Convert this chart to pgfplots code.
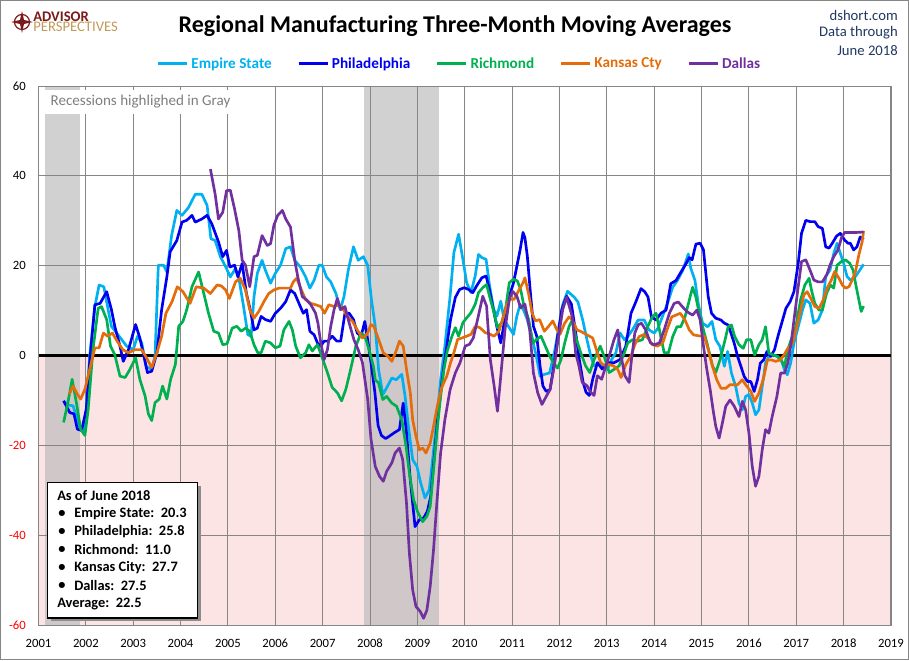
\documentclass[border=0pt]{standalone}
\usepackage{pgfplots}
\pgfplotsset{compat=1.18}
\usepackage{fontspec}
\setmainfont{Carlito}
\definecolor{cES}{HTML}{00B0F0}
\definecolor{cPH}{HTML}{0000F0}
\definecolor{cRI}{HTML}{00B050}
\definecolor{cKC}{HTML}{E46C0A}
\definecolor{cDA}{HTML}{7030A0}
\definecolor{gridc}{HTML}{868686}
\definecolor{pinkc}{HTML}{FDE4E4}
\definecolor{recc}{HTML}{BDBDBD}
\definecolor{navy}{HTML}{1F3864}
\definecolor{advred}{HTML}{7B1A1A}
\definecolor{advgold}{HTML}{C09A5B}
\definecolor{labgray}{HTML}{7F7F7F}
\begin{document}
\begin{tikzpicture}
\begin{scope}[x=0.75pt,y=0.75pt]
\useasboundingbox (0,0) rectangle (909,660);
\draw[gridc, line width=0.75pt] (0.5,0.5) rectangle (908.5,659.5);
\end{scope}
\begin{axis}[
  set layers=standard,
  scale only axis, width=639.4pt, height=404.25pt,
  at={(28.875pt,26.25pt)}, anchor=south west,
  xmin=2001, xmax=2019, ymin=-60, ymax=60,
  xtick={2001,2002,...,2019}, ytick={-60,-40,...,60},
  yticklabels={\textcolor{red}{-60},\textcolor{red}{-40},\textcolor{red}{-20},0,20,40,60},
  /pgf/number format/1000 sep={},
  /pgf/number format/assume math mode=true,
  tick label style={font=\fontsize{9.5}{11}\selectfont},
  xticklabel style={yshift=-7pt},
  yticklabel style={xshift=-6pt},
  major tick length=0pt,
  grid=major, major grid style={gridc, line width=0.75pt},
  axis line style={gridc, line width=0.75pt},
  legend style={at={(0.494,1.041)}, anchor=center, draw=none, fill=none,
    legend columns=5, font=\fontsize{11.4}{13}\selectfont\bfseries,
    /tikz/every even column/.append style={column sep=17pt}},
  legend image code/.code={\draw[#1, line width=2.2pt] (0pt,0pt) -- (22pt,0pt);},
  every axis plot/.append style={line width=2pt, line join=round},
]
\begin{pgfonlayer}{axis background}
\fill[pinkc] (axis cs:2001,-60) rectangle (axis cs:2019,0);
\fill[recc, opacity=0.7] (axis cs:2001.13,-60) rectangle (axis cs:2001.87,60);
\fill[recc, opacity=0.7] (axis cs:2007.88,-60) rectangle (axis cs:2009.46,60);
\end{pgfonlayer}
\draw[black, line width=1.6pt] (axis cs:2001,0) -- (axis cs:2019,0);

\addplot[cES] coordinates {
(2001.53,-10.1) (2001.62,-11.0) (2001.73,-11.2) (2001.87,-16.0) (2001.98,-16.7)
(2002.08,-0.1) (2002.19,10.9) (2002.28,15.7) (2002.38,15.3) (2002.47,10.2) (2002.54,6.5)
(2002.68,4.6) (2002.86,2.1) (2003.00,1.3) (2003.09,4.3) (2003.18,2.8) (2003.27,-2.4)
(2003.39,-3.1) (2003.46,-0.1) (2003.53,20.1) (2003.64,20.1) (2003.71,18.6) (2003.81,26.7)
(2003.92,32.3) (2004.03,31.2) (2004.17,33.0) (2004.31,35.9) (2004.45,35.9) (2004.56,33.4)
(2004.64,26.0) (2004.73,25.6) (2004.84,22.0) (2004.94,20.0) (2005.05,17.5) (2005.16,19.4)
(2005.23,17.2) (2005.33,10.9) (2005.42,4.6) (2005.49,4.3) (2005.55,13.1) (2005.62,18.3)
(2005.72,21.2) (2005.79,19.0) (2005.90,16.1) (2006.00,18.3) (2006.11,20.1) (2006.22,23.8)
(2006.32,24.2) (2006.41,21.2) (2006.53,19.7) (2006.64,17.5) (2006.73,15.0) (2006.82,16.8)
(2006.92,20.1) (2006.99,20.1) (2007.08,17.5) (2007.17,16.4) (2007.28,13.8) (2007.37,10.2)
(2007.45,13.1) (2007.54,19.0) (2007.65,24.2) (2007.75,21.2) (2007.86,22.0) (2007.95,20.1)
(2008.03,12.4) (2008.11,6.5) (2008.18,-3.1) (2008.27,-8.7) (2008.35,-7.2) (2008.46,-5.0)
(2008.55,-5.4) (2008.67,-4.2) (2008.74,-9.1) (2008.81,-15.8) (2008.90,-23.2) (2008.99,-24.7)
(2009.07,-28.4) (2009.16,-31.7) (2009.25,-29.9) (2009.32,-23.2) (2009.41,-14.3) (2009.49,-5.4)
(2009.58,2.1) (2009.69,13.2) (2009.77,22.9) (2009.87,27.0) (2009.96,21.4) (2010.04,16.2)
(2010.13,14.0) (2010.22,17.7) (2010.29,22.5) (2010.36,21.8) (2010.45,21.4) (2010.52,15.8)
(2010.61,10.3) (2010.68,8.8) (2010.76,12.1) (2010.83,8.0) (2010.92,6.5) (2011.03,4.7)
(2011.10,8.8) (2011.17,11.4) (2011.25,9.9) (2011.32,8.0) (2011.42,3.9) (2011.51,-0.1)
(2011.59,-4.6) (2011.68,-4.2) (2011.79,-3.9) (2011.89,0.6) (2011.98,5.8) (2012.07,11.4)
(2012.17,14.3) (2012.31,13.0) (2012.39,11.9) (2012.49,7.9) (2012.58,3.5) (2012.66,-0.1)
(2012.73,-2.3) (2012.84,-1.6) (2012.92,-2.3) (2013.01,-3.1) (2013.10,-0.9) (2013.19,0.6)
(2013.28,5.0) (2013.37,3.5) (2013.44,4.2) (2013.54,5.7) (2013.66,7.9) (2013.79,7.9)
(2013.89,5.7) (2014.00,5.0) (2014.08,6.1) (2014.17,8.6) (2014.28,11.6) (2014.39,15.2)
(2014.49,16.7) (2014.60,18.9) (2014.72,22.6) (2014.77,19.5) (2014.86,16.7) (2014.93,11.5)
(2015.02,7.2) (2015.13,6.4) (2015.22,7.6) (2015.30,3.5) (2015.39,2.0) (2015.48,-2.4)
(2015.55,0.9) (2015.63,-3.9) (2015.72,-6.9) (2015.79,-10.6) (2015.86,-12.1) (2015.93,-9.1)
(2016.00,-8.7) (2016.07,-10.6) (2016.14,-13.2) (2016.21,-12.1) (2016.28,-6.9) (2016.35,-1.7)
(2016.42,-0.2) (2016.52,0.1) (2016.60,-0.2) (2016.68,-1.0) (2016.75,-3.2) (2016.81,-4.3)
(2016.88,-1.7) (2016.95,2.7) (2017.04,6.4) (2017.13,10.1) (2017.20,12.4) (2017.29,11.6)
(2017.37,7.2) (2017.46,7.9) (2017.55,10.1) (2017.62,17.6) (2017.71,19.0) (2017.79,22.7)
(2017.86,25.0) (2017.93,22.7) (2018.00,20.5) (2018.07,17.6) (2018.14,16.8) (2018.25,17.6)
(2018.34,19.0) (2018.42,20.3)
};
\addlegendentry{\textcolor{cES}{Empire State}}

\addplot[cPH] coordinates {
(2001.53,-10.1) (2001.66,-12.7) (2001.75,-13.0) (2001.82,-16.4) (2001.91,-16.7) (2002.01,-11.9)
(2002.08,-1.6) (2002.19,11.3) (2002.30,11.6) (2002.44,14.2) (2002.54,10.2) (2002.61,6.5)
(2002.72,2.1) (2002.79,-1.3) (2002.90,1.3) (2003.05,6.9) (2003.14,3.9) (2003.21,0.6)
(2003.30,-3.8) (2003.39,-3.5) (2003.50,0.6) (2003.60,10.2) (2003.71,17.5) (2003.78,23.1)
(2003.92,25.6) (2004.03,29.7) (2004.13,30.1) (2004.24,31.2) (2004.31,29.7) (2004.45,30.4)
(2004.56,31.2) (2004.66,29.3) (2004.80,25.3) (2004.89,22.0) (2004.97,23.4) (2005.04,19.7)
(2005.14,20.1) (2005.21,17.5) (2005.30,20.5) (2005.39,13.8) (2005.47,10.2) (2005.55,5.7)
(2005.62,6.1) (2005.70,8.7) (2005.79,8.0) (2005.90,7.6) (2006.00,9.4) (2006.11,10.5)
(2006.22,12.0) (2006.32,14.6) (2006.41,13.8) (2006.50,11.6) (2006.59,9.4) (2006.66,10.2)
(2006.73,5.4) (2006.82,4.6) (2006.89,2.8) (2006.96,2.1) (2007.03,3.2) (2007.11,3.2)
(2007.20,4.3) (2007.30,3.2) (2007.38,3.2) (2007.47,9.4) (2007.56,9.4) (2007.65,8.0)
(2007.73,5.0) (2007.81,4.3) (2007.89,7.6) (2007.96,2.8) (2008.03,-2.4) (2008.10,-8.0)
(2008.17,-15.6) (2008.24,-17.8) (2008.33,-18.5) (2008.43,-17.8) (2008.51,-17.2) (2008.62,-16.5)
(2008.70,-10.6) (2008.77,-17.2) (2008.85,-27.7) (2008.95,-38.1) (2009.04,-36.6) (2009.13,-36.2)
(2009.21,-34.7) (2009.28,-31.4) (2009.35,-23.2) (2009.44,-12.8) (2009.54,-3.9) (2009.62,2.1)
(2009.70,8.0) (2009.80,12.9) (2009.89,14.7) (2009.99,15.1) (2010.08,14.7) (2010.17,14.0)
(2010.25,15.5) (2010.36,17.3) (2010.45,17.7) (2010.52,14.7) (2010.61,9.9) (2010.69,5.8)
(2010.76,2.8) (2010.85,8.4) (2010.94,13.2) (2011.03,16.2) (2011.10,19.9) (2011.17,23.6)
(2011.23,27.4) (2011.27,26.2) (2011.32,22.2) (2011.38,14.7) (2011.45,6.5) (2011.52,4.3)
(2011.59,-2.4) (2011.65,-6.8) (2011.72,-8.0) (2011.80,-7.6) (2011.89,-1.6) (2011.96,4.3)
(2012.05,10.3) (2012.15,13.2) (2012.25,11.5) (2012.33,6.0) (2012.42,-1.0) (2012.50,-6.0)
(2012.56,-8.2) (2012.63,-8.9) (2012.70,-5.3) (2012.80,-1.6) (2012.90,-3.0) (2013.01,-1.6)
(2013.15,-1.6) (2013.28,-0.9) (2013.40,2.1) (2013.51,9.4) (2013.61,11.9) (2013.72,14.9)
(2013.80,14.2) (2013.87,13.0) (2013.94,8.6) (2014.04,7.9) (2014.14,9.4) (2014.25,10.1)
(2014.35,16.0) (2014.46,16.7) (2014.56,18.5) (2014.67,20.4) (2014.74,21.8) (2014.80,21.3)
(2014.88,24.8) (2014.97,25.0) (2015.04,23.5) (2015.09,18.3) (2015.14,13.1) (2015.21,9.4)
(2015.30,8.3) (2015.41,7.9) (2015.48,7.2) (2015.56,6.8) (2015.62,5.0) (2015.69,2.7)
(2015.76,-0.2) (2015.83,-2.4) (2015.90,-4.7) (2015.97,-5.8) (2016.04,-5.8) (2016.11,-8.0)
(2016.18,-5.4) (2016.24,-1.7) (2016.31,-1.0) (2016.38,0.9) (2016.46,-0.2) (2016.54,1.3)
(2016.61,4.2) (2016.71,7.9) (2016.78,10.5) (2016.87,12.0) (2016.95,14.2) (2017.04,20.5)
(2017.11,27.2) (2017.20,30.1) (2017.29,29.8) (2017.39,29.8) (2017.46,28.7) (2017.55,28.3)
(2017.62,24.2) (2017.69,23.9) (2017.76,25.0) (2017.85,26.6) (2017.93,27.2) (2018.02,25.7)
(2018.09,25.0) (2018.14,25.0) (2018.21,23.5) (2018.28,24.2) (2018.35,26.4) (2018.42,25.8)
};
\addlegendentry{\textcolor{cPH}{Philadelphia}}

\addplot[cRI] coordinates {
(2001.53,-14.9) (2001.62,-10.5) (2001.71,-5.3) (2001.80,-10.5) (2001.89,-16.4) (2001.98,-17.8)
(2002.05,-11.9) (2002.15,1.3) (2002.26,10.5) (2002.33,10.9) (2002.44,8.0) (2002.52,2.1)
(2002.61,0.2) (2002.72,-4.6) (2002.83,-4.9) (2002.93,-3.1) (2003.05,-0.5) (2003.14,-5.3)
(2003.25,-9.0) (2003.32,-13.0) (2003.39,-14.5) (2003.46,-10.5) (2003.55,-9.7) (2003.62,-6.8)
(2003.71,-9.7) (2003.79,-5.3) (2003.89,-2.0) (2003.96,6.5) (2004.05,7.6) (2004.13,10.2)
(2004.24,15.3) (2004.38,18.6) (2004.49,13.8) (2004.59,9.4) (2004.70,5.4) (2004.80,5.0)
(2004.89,2.4) (2004.98,2.6) (2005.09,6.1) (2005.19,6.5) (2005.28,5.4) (2005.37,6.1)
(2005.46,5.4) (2005.55,2.4) (2005.63,0.6) (2005.70,0.6) (2005.79,3.2) (2005.90,2.8)
(2006.00,1.7) (2006.10,2.1) (2006.18,5.7) (2006.29,7.6) (2006.36,5.7) (2006.43,2.1)
(2006.53,-0.5) (2006.64,0.6) (2006.71,2.4) (2006.78,1.0) (2006.89,2.4) (2006.99,-0.5)
(2007.10,-3.8) (2007.20,-7.1) (2007.31,-8.3) (2007.40,-10.1) (2007.49,-7.5) (2007.59,-3.1)
(2007.70,2.1) (2007.81,5.0) (2007.89,4.3) (2007.98,1.3) (2008.07,-2.4) (2008.11,-5.4)
(2008.18,-6.1) (2008.27,-9.8) (2008.35,-9.1) (2008.46,-10.6) (2008.56,-11.3) (2008.67,-14.3)
(2008.76,-20.2) (2008.83,-26.2) (2008.92,-32.1) (2009.00,-34.7) (2009.11,-37.0) (2009.20,-35.8)
(2009.27,-33.6) (2009.34,-25.4) (2009.41,-17.2) (2009.49,-9.1) (2009.56,-3.1) (2009.63,1.0)
(2009.73,4.3) (2009.80,6.2) (2009.87,4.3) (2009.96,7.3) (2010.04,8.4) (2010.13,9.5)
(2010.22,11.4) (2010.29,14.0) (2010.38,15.1) (2010.46,15.8) (2010.54,12.5) (2010.62,9.5)
(2010.69,6.2) (2010.78,7.3) (2010.87,11.0) (2010.94,16.2) (2011.03,17.0) (2011.11,16.6)
(2011.18,14.7) (2011.25,11.0) (2011.35,8.0) (2011.44,2.8) (2011.52,3.6) (2011.61,4.3)
(2011.70,2.1) (2011.79,-0.1) (2011.87,-1.6) (2011.96,-2.8) (2012.03,-1.0) (2012.11,2.8)
(2012.20,6.4) (2012.27,7.9) (2012.34,4.2) (2012.45,0.6) (2012.55,-2.3) (2012.64,-3.8)
(2012.73,-0.9) (2012.86,2.1) (2012.94,-0.1) (2013.05,-3.8) (2013.15,-3.1) (2013.26,-2.3)
(2013.37,0.6) (2013.44,2.8) (2013.54,3.5) (2013.65,3.2) (2013.75,3.5) (2013.86,6.4)
(2013.96,8.6) (2014.04,9.4) (2014.11,5.7) (2014.21,0.6) (2014.30,0.6) (2014.39,4.2)
(2014.48,6.4) (2014.56,6.4) (2014.65,8.6) (2014.74,12.3) (2014.81,15.2) (2014.88,13.0)
(2014.95,9.4) (2015.04,5.7) (2015.13,2.1) (2015.23,-2.3) (2015.30,-3.8) (2015.39,-0.9)
(2015.48,2.8) (2015.56,6.4) (2015.63,6.8) (2015.70,4.2) (2015.79,2.4) (2015.88,1.6)
(2015.95,3.5) (2016.04,3.5) (2016.12,0.1) (2016.21,2.4) (2016.28,3.5) (2016.35,6.4)
(2016.42,0.5) (2016.52,0.1) (2016.60,-0.2) (2016.68,-1.0) (2016.75,-2.4) (2016.82,1.3)
(2016.89,3.5) (2016.99,6.4) (2017.09,12.4) (2017.18,15.7) (2017.27,17.2) (2017.32,14.6)
(2017.39,11.6) (2017.48,10.1) (2017.55,10.1) (2017.64,13.9) (2017.72,15.7) (2017.79,15.0)
(2017.86,20.1) (2017.95,20.9) (2018.04,21.3) (2018.13,20.5) (2018.20,19.0) (2018.25,16.1)
(2018.32,12.4) (2018.37,9.8) (2018.42,11.0)
};
\addlegendentry{\textcolor{cRI}{Richmond}}

\addplot[cKC] coordinates {
(2001.65,-8.6) (2001.73,-6.8) (2001.82,-8.6) (2001.89,-9.7) (2001.98,-7.5) (2002.08,-3.1)
(2002.19,1.7) (2002.28,1.7) (2002.37,5.0) (2002.46,4.3) (2002.56,5.0) (2002.66,3.2)
(2002.78,1.3) (2002.90,0.6) (2003.04,1.3) (2003.18,1.3) (2003.28,-0.5) (2003.39,-2.7)
(2003.50,0.6) (2003.60,4.3) (2003.69,9.4) (2003.82,12.0) (2003.93,15.3) (2004.05,14.2)
(2004.20,11.6) (2004.33,15.3) (2004.49,15.0) (2004.63,13.8) (2004.77,15.7) (2004.86,15.5)
(2004.95,14.6) (2005.03,12.7) (2005.16,16.4) (2005.26,17.2) (2005.37,14.6) (2005.46,10.2)
(2005.55,8.3) (2005.65,9.8) (2005.76,12.0) (2005.86,13.8) (2005.97,14.6) (2006.08,15.0)
(2006.22,15.0) (2006.32,15.0) (2006.38,16.4) (2006.45,17.2) (2006.55,14.6) (2006.64,12.4)
(2006.75,11.6) (2006.85,11.3) (2006.96,10.9) (2007.04,9.4) (2007.13,11.3) (2007.24,10.9)
(2007.35,11.3) (2007.44,10.2) (2007.52,8.7) (2007.63,7.6) (2007.73,5.7) (2007.84,3.9)
(2007.93,4.6) (2008.02,6.9) (2008.08,6.5) (2008.18,3.6) (2008.28,0.6) (2008.37,-0.1)
(2008.46,-1.3) (2008.55,1.0) (2008.62,3.2) (2008.70,2.1) (2008.77,-3.1) (2008.85,-8.3)
(2008.90,-14.3) (2008.97,-18.0) (2009.04,-21.0) (2009.11,-20.6) (2009.18,-21.7) (2009.27,-19.5)
(2009.34,-15.8) (2009.42,-11.3) (2009.51,-7.2) (2009.62,-4.6) (2009.70,-1.6) (2009.77,0.6)
(2009.85,3.6) (2009.94,3.9) (2010.04,4.3) (2010.13,4.7) (2010.22,6.5) (2010.32,6.2)
(2010.43,5.1) (2010.54,4.7) (2010.62,4.3) (2010.72,5.4) (2010.80,8.0) (2010.89,11.4)
(2010.96,12.5) (2011.04,12.5) (2011.13,14.3) (2011.23,16.2) (2011.27,17.3) (2011.35,13.6)
(2011.42,9.5) (2011.49,7.7) (2011.58,8.0) (2011.68,5.4) (2011.77,6.5) (2011.86,7.7)
(2011.94,5.8) (2012.01,4.7) (2012.11,7.2) (2012.20,8.6) (2012.27,7.9) (2012.37,5.7)
(2012.46,5.3) (2012.58,4.6) (2012.70,3.9) (2012.80,0.6) (2012.87,-1.6) (2012.96,-2.3)
(2013.05,-2.0) (2013.14,-2.3) (2013.23,-3.1) (2013.30,-4.9) (2013.40,-2.0) (2013.51,-0.1)
(2013.59,2.4) (2013.68,4.2) (2013.77,4.6) (2013.87,3.9) (2013.96,2.4) (2014.07,2.1)
(2014.18,2.8) (2014.27,5.7) (2014.37,8.6) (2014.46,9.0) (2014.55,9.4) (2014.65,7.9)
(2014.74,5.7) (2014.83,4.6) (2014.93,4.4) (2015.06,4.2) (2015.14,1.3) (2015.23,-2.4)
(2015.32,-5.4) (2015.41,-7.3) (2015.51,-7.3) (2015.60,-6.5) (2015.69,-6.5) (2015.76,-6.5)
(2015.86,-5.4) (2015.93,-6.5) (2016.04,-8.0) (2016.12,-10.2) (2016.21,-8.4) (2016.31,-5.0)
(2016.39,-1.0) (2016.48,-1.0) (2016.56,-1.3) (2016.66,-1.0) (2016.74,0.1) (2016.82,1.6)
(2016.92,2.7) (2017.01,6.4) (2017.09,10.1) (2017.16,13.5) (2017.23,14.2) (2017.32,12.4)
(2017.39,10.9) (2017.48,10.5) (2017.57,12.4) (2017.65,15.0) (2017.74,16.8) (2017.81,18.7)
(2017.90,17.2) (2017.97,15.7) (2018.04,15.0) (2018.11,15.3) (2018.18,16.8) (2018.25,18.7)
(2018.32,22.4) (2018.39,25.3) (2018.42,27.7)
};
\addlegendentry{\textcolor{cKC}{Kansas Cty}}

\addplot[cDA] coordinates {
(2004.63,41.5) (2004.73,35.9) (2004.80,30.4) (2004.89,31.9) (2004.97,36.7) (2005.05,36.8)
(2005.14,32.6) (2005.23,27.8) (2005.30,21.2) (2005.37,20.1) (2005.46,15.3) (2005.55,22.0)
(2005.62,22.3) (2005.72,26.7) (2005.83,24.5) (2005.90,24.9) (2005.97,29.0) (2006.05,31.2)
(2006.15,32.3) (2006.22,30.4) (2006.32,28.6) (2006.41,21.2) (2006.48,17.2) (2006.57,13.1)
(2006.66,12.4) (2006.75,11.3) (2006.85,9.4) (2006.90,7.2) (2006.96,2.8) (2007.03,-0.9)
(2007.10,1.3) (2007.17,6.5) (2007.24,10.2) (2007.31,12.7) (2007.38,10.2) (2007.47,10.9)
(2007.56,7.2) (2007.66,3.5) (2007.75,1.3) (2007.84,-1.6) (2007.95,-9.7) (2008.02,-18.6)
(2008.11,-24.7) (2008.20,-26.9) (2008.28,-28.0) (2008.35,-25.8) (2008.46,-23.9) (2008.53,-21.7)
(2008.62,-20.6) (2008.69,-23.2) (2008.77,-32.9) (2008.83,-44.0) (2008.90,-52.2) (2008.97,-55.9)
(2009.06,-57.0) (2009.13,-58.5) (2009.20,-56.7) (2009.27,-51.4) (2009.34,-43.3) (2009.41,-32.9)
(2009.49,-21.7) (2009.58,-14.3) (2009.69,-7.6) (2009.80,-3.9) (2009.90,-1.6) (2010.01,2.1)
(2010.10,2.5) (2010.18,3.9) (2010.27,8.0) (2010.38,13.2) (2010.46,11.0) (2010.54,-0.9)
(2010.62,-6.8) (2010.69,-12.4) (2010.76,-4.6) (2010.85,5.8) (2010.94,12.5) (2011.01,14.3)
(2011.10,13.2) (2011.18,10.6) (2011.27,11.4) (2011.37,5.8) (2011.45,-3.9) (2011.54,-8.3)
(2011.63,-10.9) (2011.72,-9.1) (2011.80,-7.6) (2011.89,-2.4) (2011.98,4.3) (2012.07,10.3)
(2012.15,13.0) (2012.27,8.6) (2012.34,0.6) (2012.41,-2.3) (2012.48,-6.0) (2012.58,-6.7)
(2012.66,-8.2) (2012.73,-8.9) (2012.80,-4.5) (2012.89,-5.3) (2012.98,-2.3) (2013.07,0.6)
(2013.15,3.5) (2013.23,5.7) (2013.30,-0.1) (2013.38,-4.5) (2013.47,-6.0) (2013.52,-0.9)
(2013.59,5.0) (2013.66,6.8) (2013.73,7.2) (2013.82,5.7) (2013.92,2.8) (2014.00,2.4)
(2014.11,2.8) (2014.21,5.7) (2014.32,9.4) (2014.42,11.6) (2014.51,11.9) (2014.60,10.8)
(2014.70,9.7) (2014.81,9.0) (2014.90,10.1) (2014.97,7.9) (2015.04,2.1) (2015.11,-3.1)
(2015.18,-7.5) (2015.25,-12.6) (2015.30,-15.8) (2015.37,-18.4) (2015.44,-15.0) (2015.51,-11.3)
(2015.60,-9.9) (2015.69,-11.3) (2015.79,-13.6) (2015.86,-10.2) (2015.93,-12.1) (2016.00,-17.3)
(2016.07,-24.7) (2016.14,-29.1) (2016.21,-26.9) (2016.28,-21.0) (2016.35,-16.5) (2016.42,-17.3)
(2016.49,-13.6) (2016.59,-9.1) (2016.67,-3.9) (2016.75,-3.9) (2016.82,-1.7) (2016.89,2.7)
(2016.96,8.7) (2017.04,15.3) (2017.11,20.9) (2017.20,21.3) (2017.29,19.0) (2017.37,16.8)
(2017.46,16.4) (2017.55,16.4) (2017.64,17.9) (2017.71,20.1) (2017.79,22.0) (2017.88,23.5)
(2017.95,26.1) (2018.02,27.4) (2018.14,27.4) (2018.28,27.4) (2018.42,27.5)
};
\addlegendentry{\textcolor{cDA}{Dallas}}
\end{axis}

\begin{scope}[x=0.75pt,y=0.75pt]
% title and source
\node[font=\fontsize{18}{20}\selectfont\bfseries] at (455,634) {Regional Manufacturing Three-Month Moving Averages};
\node[anchor=east, text=navy, font=\fontsize{11}{12}\selectfont, inner sep=0pt] at (898,645) {dshort.com};
\node[anchor=east, text=navy, font=\fontsize{11}{12}\selectfont, inner sep=0pt] at (898,627) {Data through};
\node[anchor=east, text=navy, font=\fontsize{11}{12}\selectfont, inner sep=0pt] at (898,609) {June 2018};
% logo
\draw[advred, line width=0.9pt] (22,638) circle (7.5);
\fill[advred] (22,649) -- (24,640) -- (33,638) -- (24,636) -- (22,627) -- (20,636) -- (11,638) -- (20,640) -- cycle;
\node[anchor=north west, align=left, inner sep=0pt, font=\fontsize{11}{7.5}\selectfont] at (33,648.5)
  {\textcolor{advred}{\bfseries ADVISOR}\\\textcolor{advgold}{PERSPECTIVES}};
% recession label
\node[anchor=west, fill=white, text=labgray, font=\fontsize{11.3}{13}\selectfont, inner xsep=4pt, inner ysep=4pt] at (45,558) {Recessions highlighed in Gray};
% annotation box
\fill[black!45] (51,39) rectangle (201,174);
\fill[white] (47.7,42) rectangle (197.7,177.3);
\draw[black, line width=0.9pt] (47.7,42) rectangle (197.7,177.3);
\begin{scope}[every node/.style={anchor=west, inner sep=0pt, font=\fontsize{10.8}{12}\selectfont\bfseries}]
\node at (57,164) {As of June 2018};
\node at (58,146) {\textbullet}; \node at (74,146) {Empire State:~~20.3};
\node at (58,128) {\textbullet}; \node at (74,128) {Philadelphia:~~25.8};
\node at (58,110) {\textbullet}; \node at (74,110) {Richmond:~~11.0};
\node at (58,92) {\textbullet}; \node at (74,92) {Kansas City:~~27.7};
\node at (58,74) {\textbullet}; \node at (74,74) {Dallas:~~27.5};
\node at (57,56) {Average:~~22.5};
\end{scope}
\end{scope}
\end{tikzpicture}
\end{document}
